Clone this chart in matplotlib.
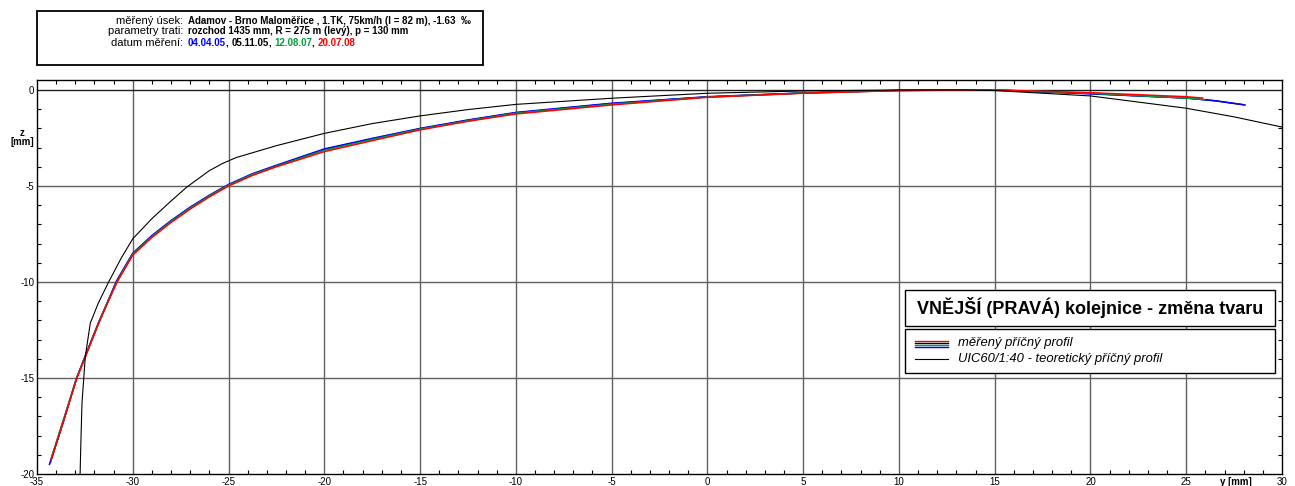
import matplotlib
matplotlib.use('Agg')
import matplotlib.pyplot as plt
from matplotlib.patches import Rectangle
from matplotlib.lines import Line2D
from matplotlib.ticker import MultipleLocator

plt.rcParams['font.family'] = ['Liberation Sans', 'DejaVu Sans']
plt.rcParams['axes.unicode_minus'] = False

# theoretical profile UIC60 1:40
y_teor = [-32.75, -32.7, -32.65, -32.48, -32.22, -31.8, -31.26, -30.6, -30.0, -29.0, -28.0, -27.17, -26.0,
          -25.3, -24.6, -22.5, -20.0, -17.5, -15.0, -12.5, -10.0, -5.0, 0.0, 5.0, 10.0, 13.5, 15.0, 20.0,
          25.0, 27.5, 30.0]
z_teor = [-20.0, -18.0, -16.3, -13.9, -12.15, -11.1, -10.0, -8.75, -7.75, -6.7, -5.78, -5.05, -4.2,
          -3.82, -3.52, -2.9, -2.26, -1.75, -1.35, -1.02, -0.75, -0.43, -0.17, -0.05, 0.0, 0.0, -0.03, -0.31,
          -0.95, -1.4, -1.93]

# measured profiles
y_m1 = [-34.35, -33.65, -32.95, -32.5, -31.8, -31.3, -30.85, -30.0, -29.0, -28.0, -27.0, -26.0, -25.0, -23.75,
        -22.5, -20.0, -17.5, -15.0, -12.5, -10.0, -5.0, 0.0, 5.0, 10.0, 13.5, 15.0, 20.0, 25.0, 26.5, 28.07]
z_m1 = [-19.5, -17.35, -15.05, -13.9, -12.15, -11.0, -9.95, -8.5, -7.58, -6.8, -6.1, -5.48, -4.92, -4.36,
        -3.92, -3.07, -2.52, -2.0, -1.56, -1.17, -0.69, -0.35, -0.15, -0.02, 0.0, 0.0, -0.2, -0.42, -0.56, -0.78]

y_m2 = [-34.3, -33.63, -32.93, -32.49, -31.8, -31.3, -30.84, -30.0, -29.0, -28.0, -27.0, -26.0, -25.0, -23.75,
        -22.5, -20.0, -17.5, -15.0, -12.5, -10.0, -5.0, 0.0, 5.0, 10.0, 13.5, 15.0, 20.0, 25.0, 26.5, 28.0]
z_m2 = [-19.4, -17.3, -15.0, -13.9, -12.15, -11.02, -9.97, -8.52, -7.6, -6.82, -6.12, -5.5, -4.94, -4.38,
        -3.94, -3.1, -2.55, -2.02, -1.58, -1.19, -0.71, -0.36, -0.16, -0.02, 0.0, 0.0, -0.19, -0.42, -0.56, -0.77]

y_m3 = [-34.25, -33.6, -32.9, -32.48, -31.8, -31.3, -30.82, -30.0, -29.0, -28.0, -27.0, -26.0, -25.0, -23.75,
        -22.5, -20.0, -17.5, -15.0, -12.5, -10.0, -5.0, 0.0, 5.0, 10.0, 13.5, 15.0, 20.0, 25.0, 25.95]
z_m3 = [-19.15, -17.1, -14.92, -13.9, -12.18, -11.03, -9.98, -8.55, -7.63, -6.85, -6.15, -5.52, -4.96, -4.4,
        -3.97, -3.14, -2.58, -2.04, -1.6, -1.21, -0.74, -0.37, -0.16, -0.03, 0.0, 0.0, -0.17, -0.42, -0.5]

y_m4 = [-34.27, -33.61, -32.91, -32.48, -31.8, -31.3, -30.82, -30.0, -29.0, -28.0, -27.0, -26.0, -25.0, -23.75,
        -22.5, -20.0, -17.5, -15.0, -12.5, -10.0, -5.0, 0.0, 5.0, 10.0, 13.5, 15.0, 20.0, 25.0, 25.85]
z_m4 = [-19.27, -17.2, -14.98, -13.9, -12.2, -11.05, -10.0, -8.6, -7.68, -6.9, -6.2, -5.57, -5.0, -4.45,
        -4.0, -3.21, -2.64, -2.08, -1.63, -1.25, -0.78, -0.38, -0.17, -0.03, 0.0, 0.0, -0.14, -0.35, -0.42]

dates = ['04.04.05', '05.11.05', '12.08.07', '20.07.08']
colors = ['#0000ff', '#000000', '#00a040', '#ff0000']

W, H = 1295, 486


def fx(px):
    return px / W


def fy(py):
    return 1 - py / H


fig = plt.figure(figsize=(W / 100, H / 100), dpi=100)
ax = fig.add_axes([fx(37), fy(474), (1282 - 37) / W, (474 - 80) / H])
ax.set_xlim(-35, 30)
ax.set_ylim(-20, 0.52)

# grid
for gx in range(-30, 30, 5):
    ax.axvline(gx, color='#606060', lw=1.0, zorder=1)
for gy in [-15, -10, -5]:
    ax.axhline(gy, color='#606060', lw=1.0, zorder=1)
ax.axhline(0, color='#202020', lw=1.0, zorder=1)

# measured profiles (black, blue, green, red on top)
ax.plot(y_m2, z_m2, color=colors[1], lw=1.0, zorder=3)
ax.plot(y_m1, z_m1, color=colors[0], lw=1.1, zorder=3)
ax.plot(y_m3, z_m3, color=colors[2], lw=1.1, zorder=3)
ax.plot(y_m4, z_m4, color=colors[3], lw=1.1, zorder=3)
# theoretical
ax.plot(y_teor, z_teor, color='black', lw=0.8, zorder=4)

ax.xaxis.set_major_locator(MultipleLocator(5))
ax.yaxis.set_major_locator(MultipleLocator(5))
ax.xaxis.set_minor_locator(MultipleLocator(1))
ax.yaxis.set_minor_locator(MultipleLocator(1))
ax.tick_params(which='both', direction='in', top=True, right=True, labelsize=7, pad=2, width=0.8)
ax.tick_params(which='major', length=0)
ax.tick_params(which='minor', length=3)
ax.set_xticks(range(-35, 31, 5))
ax.set_xticklabels([str(v) for v in range(-35, 31, 5)])
ax.set_yticks(range(-20, 1, 5))
ax.set_yticklabels([str(v) for v in range(-20, 1, 5)])
for s in ax.spines.values():
    s.set_linewidth(1.0)

fig.text(fx(22), fy(133), 'z', fontsize=7, fontweight='bold', ha='center', va='center')
fig.text(fx(22), fy(142), '[mm]', fontsize=7, fontweight='bold', ha='center', va='center')
fig.text(fx(1236), fy(482), 'y [mm]', fontsize=7, fontweight='bold', ha='center', va='center')

# header box
labels = ['měřený úsek:', 'parametry trati:', 'datum měření:']
values = ['Adamov - Brno Maloměřice , 1.TK, 75km/h (l = 82 m), -1.63  ‰',
          'rozchod 1435 mm, R = 275 m (levý), p = 130 mm']
rows_y = [20.5, 31.5, 42.5]
lfs, vfs = 8, 7
for lab, yy in zip(labels, rows_y):
    fig.text(fx(183), fy(yy), lab, fontsize=lfs, ha='right', va='center')

renderer = fig.canvas.get_renderer()
right_edge = 0
for val, yy in zip(values, rows_y):
    t = fig.text(fx(188), fy(yy), val, fontsize=vfs, fontweight='bold', ha='left', va='center')
    right_edge = max(right_edge, t.get_window_extent(renderer).x1)

xp = 188
for i, d in enumerate(dates):
    pieces = [(d, colors[i])]
    if i < len(dates) - 1:
        pieces.append((', ', 'black'))
    for s, c in pieces:
        t = fig.text(fx(xp), fy(rows_y[2]), s, fontsize=vfs, fontweight='bold', color=c, ha='left', va='center')
        xp += t.get_window_extent(renderer).width

box_right = max(447, right_edge + 12)
fig.add_artist(Rectangle((fx(37), fy(65)), (box_right - 37) / W, (65 - 11) / H, transform=fig.transFigure,
                         fill=False, ec='black', lw=1.3))

# legend boxes
fig.add_artist(Rectangle((fx(905), fy(326)), (1275 - 905) / W, (326 - 290) / H, transform=fig.transFigure,
                         fc='white', ec='black', lw=1.0, zorder=5))
fig.add_artist(Rectangle((fx(905), fy(373)), (1275 - 905) / W, (373 - 329) / H, transform=fig.transFigure,
                         fc='white', ec='black', lw=1.0, zorder=5))
fig.text(fx(1090), fy(308), 'VNĚJŠÍ (PRAVÁ) kolejnice - změna tvaru', fontsize=13, fontweight='bold',
         ha='center', va='center', zorder=6)
for c, yy in zip([colors[3], colors[1], colors[2], colors[0]], [340.5, 342.5, 344.5, 346.5]):
    fig.add_artist(Line2D([fx(915), fx(948)], [fy(yy), fy(yy)], transform=fig.transFigure, color=c, lw=1.0,
                          zorder=6))
fig.add_artist(Line2D([fx(915), fx(948)], [fy(359), fy(359)], transform=fig.transFigure, color='black', lw=0.8,
                      zorder=6))
fig.text(fx(958), fy(343), 'měřený příčný profil', fontsize=9.4, style='italic', ha='left', va='center', zorder=6)
fig.text(fx(958), fy(359), 'UIC60/1:40 - teoretický příčný profil', fontsize=9.4, style='italic',
         ha='left', va='center', zorder=6)

fig.savefig('out.png', dpi=100)
